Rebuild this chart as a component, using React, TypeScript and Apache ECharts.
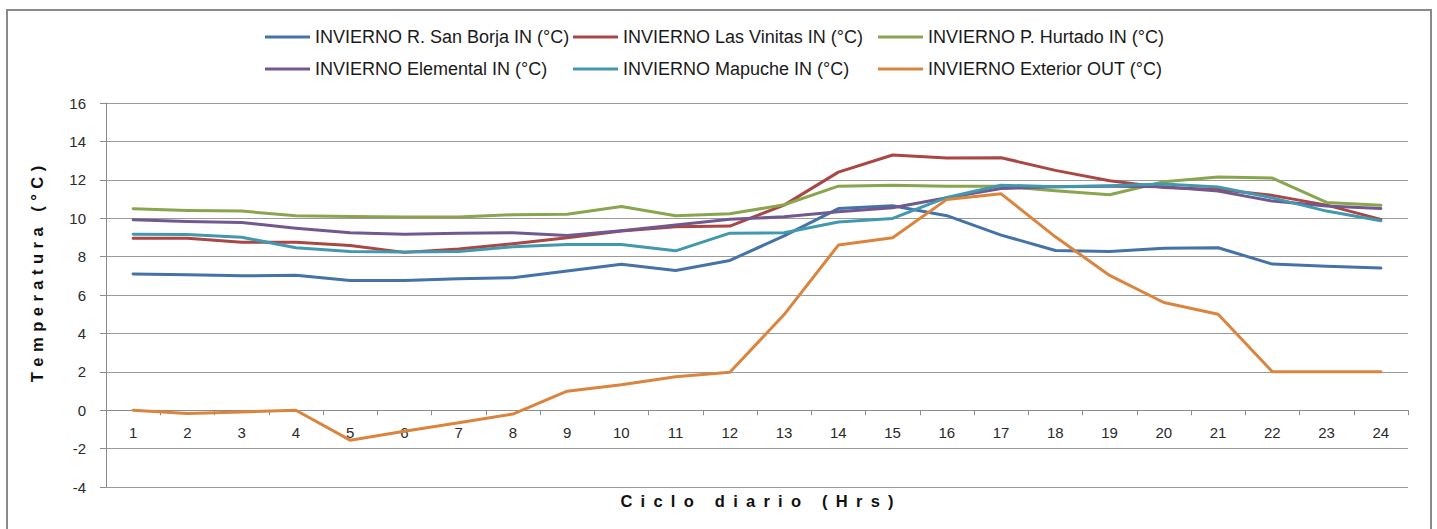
import React, { useEffect, useRef } from "react";
import * as echarts from "echarts";

const categories = ["1","2","3","4","5","6","7","8","9","10","11","12","13","14","15","16","17","18","19","20","21","22","23","24"];

const sanBorja = [7.09,7.05,7.0,7.03,6.76,6.76,6.84,6.9,7.25,7.6,7.28,7.8,9.08,10.5,10.65,10.13,9.12,8.32,8.27,8.44,8.46,7.61,7.5,7.4];
const lasVinitas = [8.95,8.95,8.75,8.75,8.58,8.22,8.4,8.67,8.98,9.33,9.55,9.59,10.68,12.4,13.29,13.13,13.15,12.49,11.95,11.6,11.5,11.19,10.68,9.94];
const pHurtado = [10.49,10.4,10.37,10.13,10.09,10.06,10.06,10.18,10.21,10.61,10.13,10.23,10.7,11.67,11.71,11.67,11.67,11.43,11.22,11.9,12.14,12.09,10.82,10.67];
const elemental = [9.92,9.83,9.78,9.48,9.24,9.17,9.22,9.24,9.1,9.35,9.64,9.94,10.07,10.33,10.54,11.06,11.55,11.64,11.67,11.64,11.41,10.89,10.63,10.51];
const mapuche = [9.17,9.15,9.01,8.46,8.27,8.24,8.26,8.51,8.63,8.63,8.3,9.22,9.24,9.8,9.99,11.08,11.72,11.64,11.69,11.78,11.62,11.06,10.37,9.87];
const exterior = [0,-0.17,-0.09,0,-1.56,-1.1,-0.65,-0.2,0.99,1.32,1.74,1.98,4.98,8.6,8.98,10.98,11.27,9.03,7.02,5.61,5.0,2.0,2.0,2.0];

const seriesNames = [
  "INVIERNO R. San Borja IN (°C)",
  "INVIERNO Las Vinitas IN (°C)",
  "INVIERNO P. Hurtado IN (°C)",
  "INVIERNO Elemental IN (°C)",
  "INVIERNO Mapuche IN (°C)",
  "INVIERNO Exterior OUT (°C)",
];
const seriesData = [sanBorja, lasVinitas, pHurtado, elemental, mapuche, exterior];
const colors = ["#4572A7", "#AA4643", "#89A54E", "#71588F", "#4198AF", "#DB843D"];

const xTitle = "Ciclo diario (Hrs)";
const yTitle = "Temperatura (°C)";

const FONT = "'Liberation Sans', Arial, sans-serif";

const legendCols = [265, 573, 878];
const legendRows = [28, 60];

export default function App() {
  const ref = useRef<HTMLDivElement>(null);
  useEffect(() => {
    if (!ref.current) return;
    const chart = echarts.init(ref.current, null, { renderer: "svg" });
    const legends = seriesNames.map((name, i) => ({
      show: true,
      data: [name],
      left: legendCols[i % 3],
      top: legendRows[Math.floor(i / 3)],
      icon: "rect",
      itemWidth: 45,
      itemHeight: 3,
      itemGap: 0,
      itemTextGap: 3,
      padding: 0,
      selectedMode: false,
      textStyle: { fontFamily: FONT, fontSize: 18, color: "#1a1a1a" },
    }));
    chart.setOption({
      animation: false,
      backgroundColor: "#ffffff",
      color: colors,
      legend: legends,
      grid: { left: 106, right: 29, top: 103, bottom: 42, containLabel: false },
      xAxis: {
        type: "category",
        data: categories,
        boundaryGap: true,
        offset: -76.8,
        axisLine: { onZero: false, lineStyle: { color: "#8c8c8c", width: 1 } },
        axisTick: { show: true, alignWithLabel: false, length: 5, lineStyle: { color: "#8c8c8c" } },
        axisLabel: { fontFamily: FONT, fontSize: 15, color: "#2a2a2a", margin: 15 },
        splitLine: { show: false },
      },
      yAxis: {
        type: "value",
        min: -4,
        max: 16,
        interval: 2,
        axisLine: { show: true, lineStyle: { color: "#8c8c8c", width: 1 } },
        axisTick: { show: true, length: 6, lineStyle: { color: "#8c8c8c" } },
        axisLabel: { fontFamily: FONT, fontSize: 15, color: "#2a2a2a", margin: 20 },
        splitLine: { show: true, lineStyle: { color: "#9a9a9a", width: 1 } },
      },
      series: seriesNames.map((name, i) => ({
        name,
        type: "line",
        data: seriesData[i],
        showSymbol: false,
        symbol: "none",
        lineStyle: { width: 3, color: colors[i], cap: "round", join: "round" },
        itemStyle: { color: colors[i] },
        z: 2 + i,
      })),
      graphic: [
        {
          type: "rect",
          shape: { x: 7, y: 10, width: 1424, height: 540 },
          style: { fill: "none", stroke: "#8a8a8a", lineWidth: 2 },
          silent: true,
          z: 0,
        },
        {
          type: "text",
          x: 757,
          y: 501,
          style: {
            text: xTitle.split("").join("\u2002"),
            fontFamily: FONT,
            fontSize: 16.5,
            fontWeight: "bold",
            fill: "#111",
            textAlign: "center",
            textVerticalAlign: "middle",
          },
        },
        {
          type: "text",
          x: 37,
          y: 274,
          rotation: Math.PI / 2,
          style: {
            text: yTitle.split("").join("\u2004"),
            fontFamily: FONT,
            fontSize: 16.5,
            fontWeight: "bold",
            fill: "#111",
            textAlign: "center",
            textVerticalAlign: "middle",
          },
        },
      ],
    });
    return () => chart.dispose();
  }, []);
  return (
    <div
      ref={ref}
      style={{ position: "fixed", left: 0, top: 0, width: 1437, height: 529, background: "#fff" }}
    />
  );
}
